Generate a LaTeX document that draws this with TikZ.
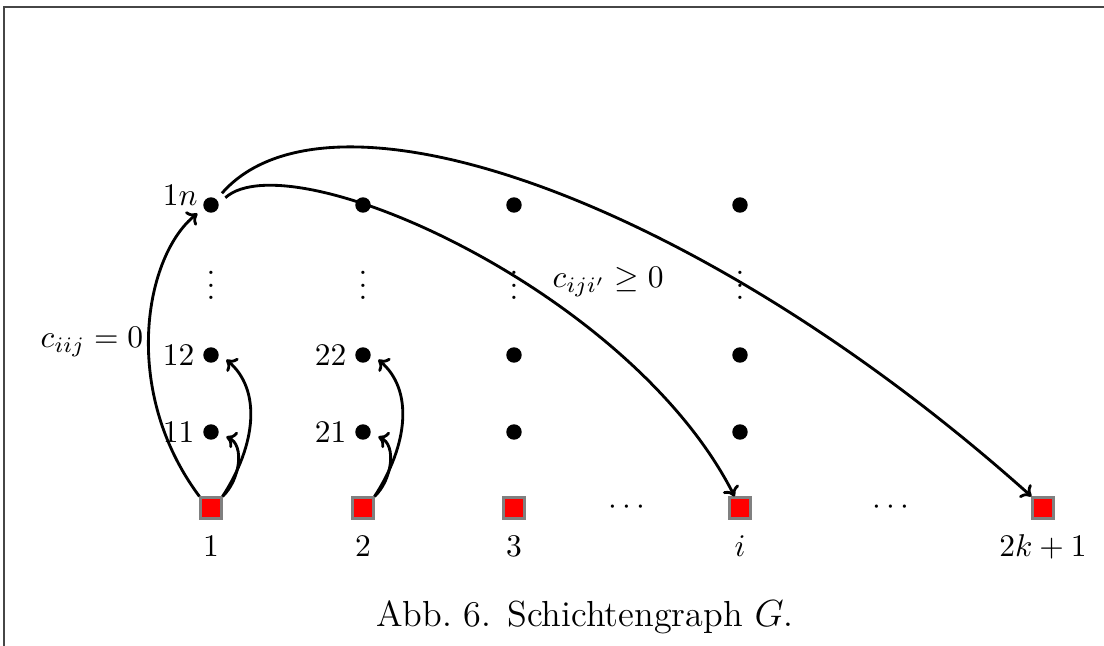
\documentclass[tikz,border=0pt]{standalone}
\usetikzlibrary{arrows.meta}
\definecolor{sqred}{RGB}{255,0,0}
\definecolor{sqgray}{RGB}{128,128,128}
\definecolor{framecol}{RGB}{70,70,70}
\tikzset{
  dotnode/.style={circle, minimum size=10.2pt, inner sep=0pt, outer sep=0pt,
    path picture={\fill[black] (path picture bounding box.center) circle (2.45pt);}},
  sqnode/.style={rectangle, draw=sqgray, fill=sqred, line width=0.85pt, minimum size=6.5pt, inner sep=0pt},
  lab/.style={inner sep=0pt, font=\fontsize{10}{12}\selectfont},
  conn/.style={line width=0.9pt, -{To[length=3pt,width=5.6pt]}},
}
\begin{document}
\begin{tikzpicture}[x=0.3175pt, y=-0.3175pt]
\useasboundingbox (0,0) rectangle (1104,646);
\draw[framecol, line width=0.5pt] (4,646) -- (4,7) -- (1104,7);

% dots
\node[dotnode] (d1n) at (211,205) {};
\node[dotnode] (d12) at (211,355) {};
\node[dotnode] (d11) at (211,432) {};
\node[dotnode] (d2n) at (363,205) {};
\node[dotnode] (d22) at (363,355) {};
\node[dotnode] (d21) at (363,432) {};
\node[dotnode] (d3n) at (514,205) {};
\node[dotnode] (d32) at (514,355) {};
\node[dotnode] (d31) at (514,432) {};
\node[dotnode] (din) at (740,205) {};
\node[dotnode] (di2) at (740,355) {};
\node[dotnode] (di1) at (740,432) {};

% vdots
\node[lab, anchor=base] (v1) at (211,300) {$\vdots$};
\node[lab, anchor=base] (v2) at (363,300) {$\vdots$};
\node[lab, anchor=base] (v3) at (514,300) {$\vdots$};
\node[lab, anchor=base] (vi) at (740,300) {$\vdots$};

% dot labels
\node[lab, anchor=east] (l1n) at ([xshift=1pt,yshift=3.2pt]d1n.west) {$1n$};
\node[lab, anchor=east] (l12) at (d12.west) {$12$};
\node[lab, anchor=east] (l11) at (d11.west) {$11$};
\node[lab, anchor=east] (l22) at (d22.west) {$22$};
\node[lab, anchor=east] (l21) at (d21.west) {$21$};

% squares
\node[sqnode] (s1) at (211,508) {};
\node[sqnode] (s2) at (363,508) {};
\node[sqnode] (s3) at (514,508) {};
\node[sqnode] (si) at (740,508) {};
\node[sqnode] (sk) at (1043,508) {};

% cdots
\node[lab, anchor=base] (c1) at (627,515) {$\cdots$};
\node[lab, anchor=base] (c2) at (891,515) {$\cdots$};

% square labels
\node[lab, anchor=base] (t1) at (211,557) {$1$};
\node[lab, anchor=base] (t2) at (363,557) {$2$};
\node[lab, anchor=base] (t3) at (514,557) {$3$};
\node[lab, anchor=base] (ti) at (740,557) {$i$};
\node[lab, anchor=base] (tk) at (1043,557) {$2k+1$};

% edge labels
\node[lab, anchor=base west] (ciij) at (40,348) {$c_{iij}=0$};
\node[lab, anchor=base west] (ciji) at (552,288) {$c_{iji'}\geq 0$};

% caption
\node[inner sep=0pt, anchor=base, font=\fontsize{11.5}{14}\selectfont] (cap) at (585,627) {Abb.~6. Schichtengraph $G$.};

% connectors
\draw[conn] (s1.north west) .. controls (120,390) and (145,255) .. (d1n.212);
\draw[conn] (s1.north east) .. controls (240,480) and (245,445) .. (d11.-17);
\draw[conn] (s1.north east) .. controls (256,445) and (262,390) .. (d12.-17);
\draw[conn] (s2.north east) .. controls (392,480) and (397,445) .. (d21.-17);
\draw[conn] (s2.north east) .. controls (408,445) and (414,390) .. (d22.-17);
\draw[conn] (d1n.27) .. controls (290,140) and (630,290) .. (si.115);
\draw[conn] (d1n.47) .. controls (330,70) and (700,200) .. (sk.135);
\end{tikzpicture}
\end{document}
